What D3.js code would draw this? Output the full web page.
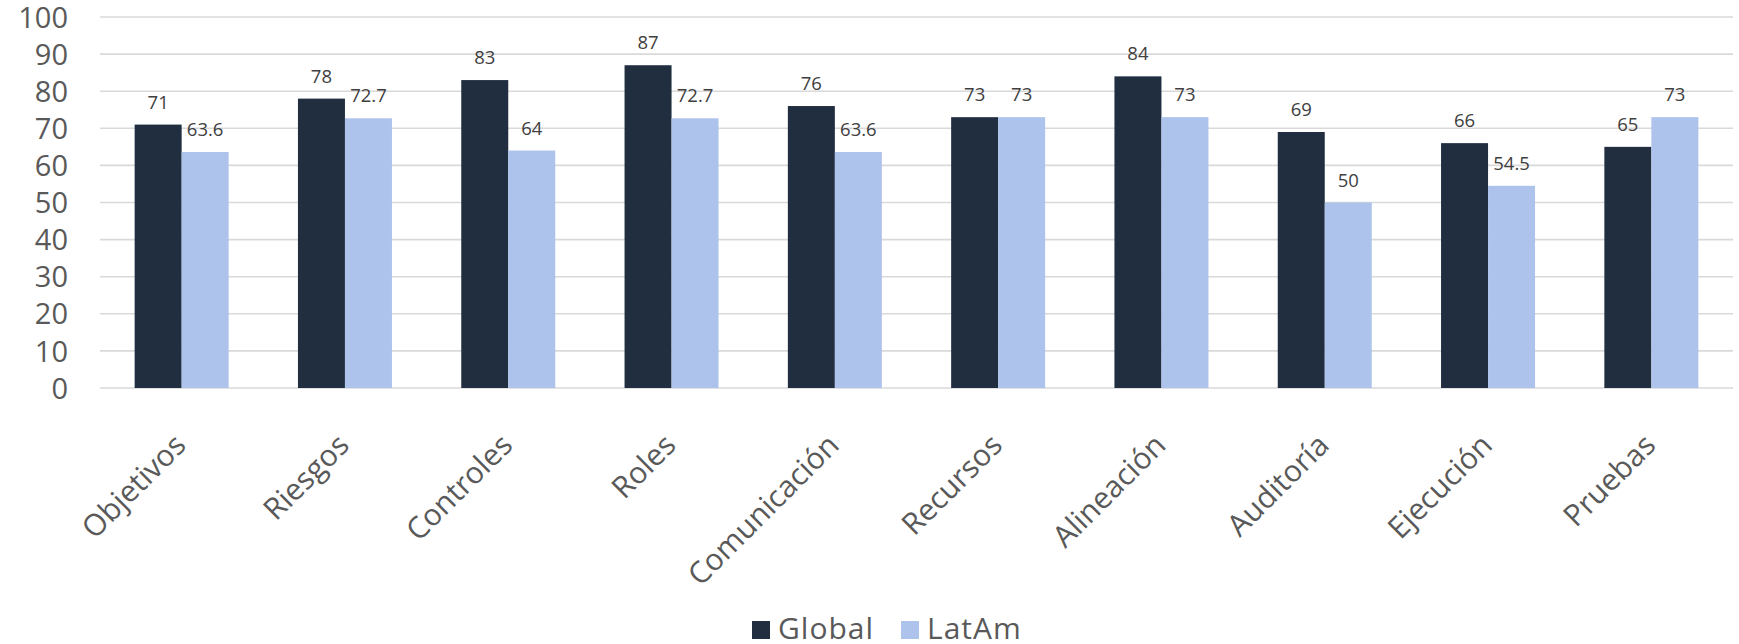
<!DOCTYPE html>
<html>
<head>
<meta charset="utf-8">
<script src="https://cdn.jsdelivr.net/npm/d3@7"></script>
<style>
  html, body { margin: 0; padding: 0; background: #fff; }
  svg { display: block; font-family: "Open Sans", "Noto Sans", sans-serif; }
</style>
</head>
<body>
<svg id="chart" width="1739" height="644"></svg>
<script>
const categories = ["Objetivos", "Riesgos", "Controles", "Roles", "Comunicación", "Recursos", "Alineación", "Auditoría", "Ejecución", "Pruebas"];
const seriesNames = ["Global", "LatAm"];
const globalValues = [71, 78, 83, 87, 76, 73, 84, 69, 66, 65];
const latamValues = [63.6, 72.7, 64, 72.7, 63.6, 73, 73, 50, 54.5, 73];
const yTicks = [0, 10, 20, 30, 40, 50, 60, 70, 80, 90, 100];
const colors = ["#202e40", "#adc3ec"];

const svg = d3.select("#chart");
const W = 1739, H = 644;
const margin = { left: 100, right: 6, top: 17, bottom: 256 };
const plotBottom = H - margin.bottom;

const x = d3.scaleBand().domain(categories).range([margin.left, W - margin.right]).paddingInner(0).paddingOuter(0);
const xInner = d3.scaleBand().domain(seriesNames).range([0, 94]);
const y = d3.scaleLinear().domain([0, 100]).range([plotBottom, margin.top]);

// gridlines
svg.append("g").selectAll("line").data(yTicks).join("line")
  .attr("x1", margin.left).attr("x2", W - margin.right)
  .attr("y1", d => y(d)).attr("y2", d => y(d))
  .attr("stroke", "#d9d9d9").attr("stroke-width", 1.6);

// y axis
const yAxis = d3.axisLeft(y).tickValues(yTicks).tickSize(0).tickPadding(0).tickFormat(d3.format("d"));
const yG = svg.append("g").attr("transform", `translate(68,0)`).call(yAxis);
yG.select(".domain").remove();
yG.selectAll("text").attr("font-size", 29).attr("fill", "#595959")
  .attr("font-family", "'Open Sans', sans-serif").attr("dy", "0.35em");

// bars
const rows = categories.map((c, i) => ({ cat: c, vals: [globalValues[i], latamValues[i]] }));
const groups = svg.append("g").selectAll("g").data(rows).join("g")
  .attr("transform", d => `translate(${x(d.cat) + x.bandwidth() / 2 - 47},0)`);

groups.selectAll("rect").data(d => d.vals.map((v, k) => ({ s: seriesNames[k], v, k }))).join("rect")
  .attr("x", d => xInner(d.s))
  .attr("width", xInner.bandwidth())
  .attr("y", d => y(d.v))
  .attr("height", d => plotBottom - y(d.v))
  .attr("fill", d => colors[d.k]);

groups.selectAll("text").data(d => d.vals.map((v, k) => ({ s: seriesNames[k], v, k }))).join("text")
  .attr("x", d => xInner(d.s) + xInner.bandwidth() / 2)
  .attr("y", d => y(d.v) - 16)
  .attr("text-anchor", "middle")
  .attr("font-size", 18.5)
  .attr("fill", "#404040")
  .text(d => d.v);

// x axis labels
svg.append("g").selectAll("text").data(categories).join("text")
  .attr("transform", d => `translate(${x(d) + x.bandwidth() / 2 + 6},${plotBottom + 59}) rotate(-45)`)
  .attr("text-anchor", "end")
  .attr("font-size", 30)
  .attr("fill", "#595959")
  .text(d => d);

// legend
const legend = svg.append("g").attr("transform", "translate(752,0)");
let lx = 0;
seriesNames.forEach((name, k) => {
  legend.append("rect").attr("x", lx).attr("y", 621).attr("width", 18).attr("height", 18).attr("fill", colors[k]);
  const t = legend.append("text").attr("x", lx + 26).attr("y", 639)
    .attr("font-size", 30).attr("letter-spacing", 1).attr("fill", "#595959").text(name);
  lx += 26 + t.node().getComputedTextLength() + 27;
});
</script>
</body>
</html>
